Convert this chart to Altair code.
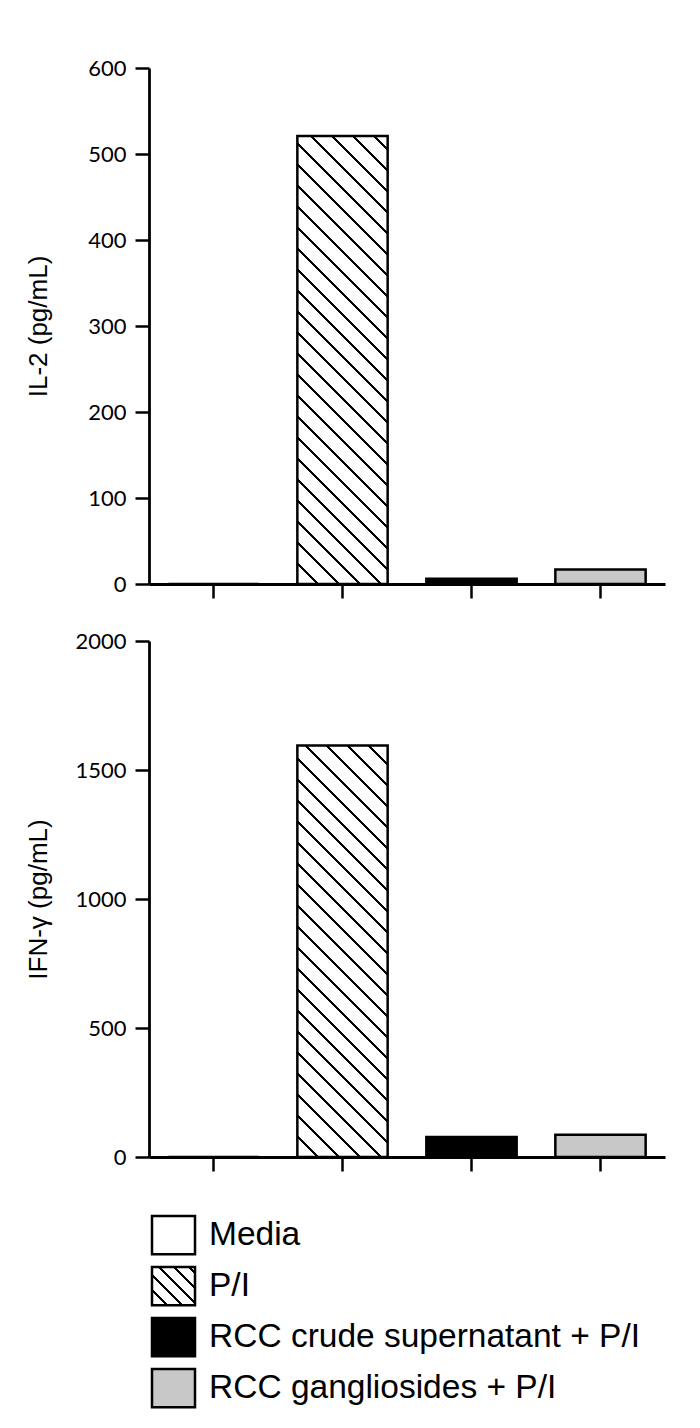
import math
import altair as alt
import pandas as pd

# ---- data ----
categories = ["Media", "P/I", "RCC crude supernatant + P/I", "RCC gangliosides + P/I"]
il2_values = [0, 521, 6, 17]
ifng_values = [0, 1595, 78, 86]
il2_ticks = [0, 100, 200, 300, 400, 500, 600]
ifng_ticks = [0, 500, 1000, 1500, 2000]
il2_max = 600
ifng_max = 2000

# ---- style ----
FILLS = ["#ffffff", "#ffffff", "#000000", "#c8c8c8"]
W = 516
H = 516
PAD_INNER = 0.3
PAD_OUTER = 0.15
STROKE_W = 2.5


def hatch_fill(w, h, period, thick=2.2):
    """Linear gradient that looks like 45-degree '\\' hatching on a w x h box."""
    s = (w + h) / (w * w + h * h)
    length = (w + h) / math.sqrt(2)
    n = (w + h) / period
    t = thick / length
    stops = []
    k = 0
    while True:
        c = k / n
        a = max(0.0, c - t / 2)
        b = min(1.0, c + t / 2)
        if a >= 1.0:
            break
        stops += [
            {"offset": a, "color": "#ffffff"},
            {"offset": a, "color": "#000000"},
            {"offset": b, "color": "#000000"},
            {"offset": b, "color": "#ffffff"},
        ]
        k += 1
    return {"gradient": "linear", "x1": 0, "y1": 1, "x2": s * w, "y2": 1 - s * h, "stops": stops}


color_scale = alt.Scale(domain=categories, range=FILLS)
step = W / (len(categories) - PAD_INNER + 2 * PAD_OUTER)
bar_w = step * (1 - PAD_INNER)


def panel(values, ticks, ymax, title):
    df = pd.DataFrame({"cat": categories, "value": values})
    x = alt.X("cat:N", scale=alt.Scale(domain=categories, paddingInner=PAD_INNER, paddingOuter=PAD_OUTER),
              axis=alt.Axis(labels=False, title=None))
    y = alt.Y("value:Q", scale=alt.Scale(domain=[0, ymax], nice=False),
              axis=alt.Axis(values=ticks, title=title, format="d"))
    base = alt.Chart(df).encode(x=x, y=y)
    solid = base.transform_filter(alt.datum.cat != "P/I").mark_bar(
        stroke="black", strokeWidth=STROKE_W
    ).encode(color=alt.Color("cat:N", scale=color_scale, legend=None))
    pi_val = values[categories.index("P/I")]
    hatched = base.transform_filter(alt.datum.cat == "P/I").mark_bar(
        stroke="black", strokeWidth=STROKE_W,
        fill=hatch_fill(bar_w, pi_val / ymax * H, 21)
    )
    return alt.layer(solid, hatched).properties(width=W, height=H)


top = panel(il2_values, il2_ticks, il2_max, "IL-2 (pg/mL)")
bottom = panel(ifng_values, ifng_ticks, ifng_max, "IFN-γ (pg/mL)")

# ---- custom legend ----
leg_df = pd.DataFrame({"cat": categories})
LEG_STEP = 51
LEG_PI = 0.25
LEG_PO = 0.255
LEG_H = LEG_STEP * (len(categories) - LEG_PI + 2 * LEG_PO)
ly = alt.Y("cat:N", scale=alt.Scale(domain=categories, paddingInner=LEG_PI, paddingOuter=LEG_PO), axis=None)
boxes = alt.Chart(leg_df).transform_filter(alt.datum.cat != "P/I").mark_rect(
    stroke="black", strokeWidth=STROKE_W
).encode(y=ly, x=alt.value(3), x2=alt.value(46),
         color=alt.Color("cat:N", scale=color_scale, legend=None))
hbox = alt.Chart(leg_df).transform_filter(alt.datum.cat == "P/I").mark_rect(
    stroke="black", strokeWidth=STROKE_W,
    fill=hatch_fill(43, LEG_STEP * (1 - LEG_PI), 15)
).encode(y=ly, x=alt.value(3), x2=alt.value(46))
texts = alt.Chart(leg_df).mark_text(
    align="left", baseline="middle", font="Liberation Sans", fontSize=33.5, color="black"
).encode(y=ly, x=alt.value(60), text="cat:N")
legend = alt.layer(boxes, hbox, texts).properties(width=W, height=LEG_H)

chart = alt.vconcat(top, bottom, legend, spacing=30).resolve_scale(
    x="independent", y="independent", color="shared"
).properties(
    padding={"left": 17, "top": 49, "right": 10, "bottom": 5}
).configure_view(stroke=None).configure_axis(
    domainColor="black", domainWidth=2.8, tickColor="black", tickWidth=2.5, tickSize=14,
    labelFont="Lato", labelFontSize=22, labelColor="black", labelPadding=9,
    titleFont="Liberation Sans", titleFontSize=26, titleFontWeight="normal", titleColor="black",
    grid=False
).configure_axisY(minExtent=85, maxExtent=85, titlePadding=13)

chart.save("out.html", embed_options={"renderer": "svg", "actions": False})
